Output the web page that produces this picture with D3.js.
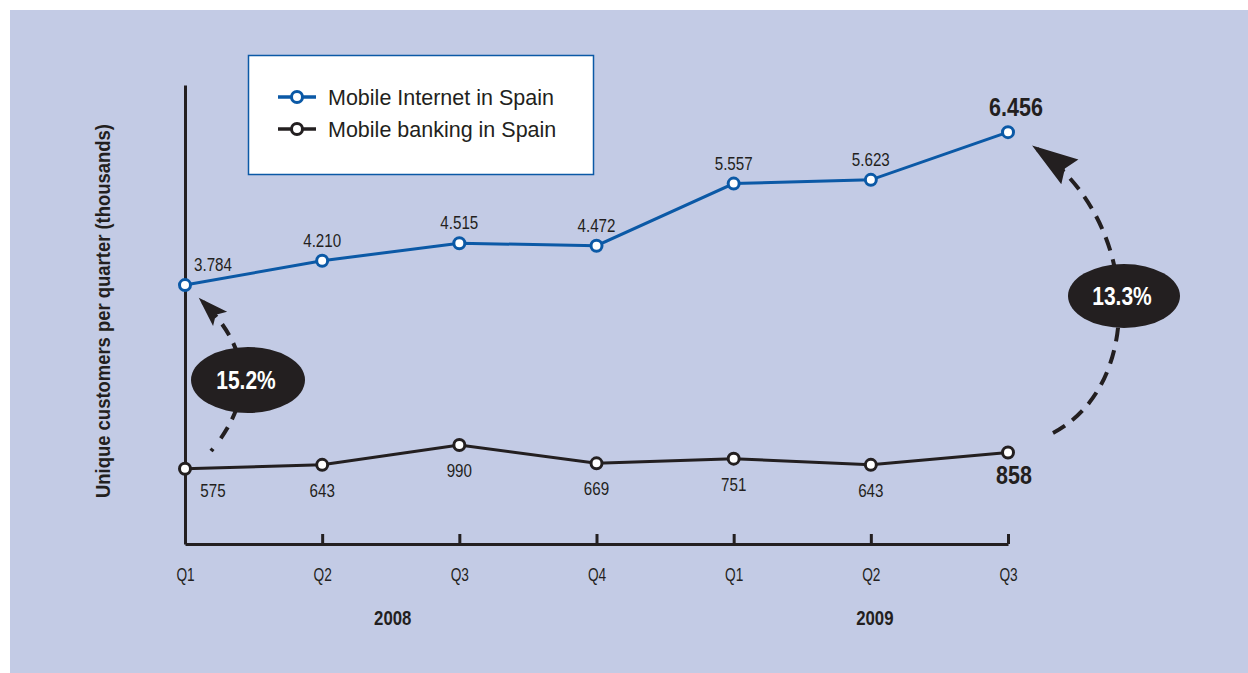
<!DOCTYPE html>
<html>
<head>
<meta charset="utf-8">
<script src="https://cdn.jsdelivr.net/npm/d3@7"></script>
<style>
  html, body { margin: 0; padding: 0; background: #fff; }
  svg { display: block; }
  text { font-family: "Liberation Sans", Arial, sans-serif; }
</style>
</head>
<body>
<div id="chart"></div>
<script>
// data
const quarters = ["Q1", "Q2", "Q3", "Q4", "Q1", "Q2", "Q3"];
const periods = ["2008 Q1", "2008 Q2", "2008 Q3", "2008 Q4", "2009 Q1", "2009 Q2", "2009 Q3"];
const years = ["2008", "2009"];
const internetVals = [3784, 4210, 4515, 4472, 5557, 5623, 6456];
const bankingVals = [575, 643, 990, 669, 751, 643, 858];
const internetLabels = ["3.784", "4.210", "4.515", "4.472", "5.557", "5.623", "6.456"];
const bankingLabels = ["575", "643", "990", "669", "751", "643", "858"];
const seriesNames = ["Mobile Internet in Spain", "Mobile banking in Spain"];
const growthLabels = ["15.2%", "13.3%"];

const W = 1248, H = 673;
const blue = "#0b59a6", dark = "#231f20", bg = "#c3cbe5";

let svg = d3.select("#chart").append("svg")
  .attr("width", W).attr("height", H);

// background panel
svg.append("rect").attr("x", 10).attr("y", 10)
  .attr("width", W - 10).attr("height", H - 10).attr("fill", bg);

// scales
let x = d3.scalePoint().domain(periods).range([185, 1008]);
let y = d3.scaleLinear().domain([-740, 7280]).range([544, 85]);

// condensed look: squeeze a normal font sideways
function narrow(g, px, py, sx) {
  return g.append("g").attr("transform", `translate(${px},${py}) scale(${sx},1)`)
    .append("text").attr("text-anchor", "middle").attr("fill", dark);
}

// x axis, ticks pointing up
let xAxis = svg.append("g").attr("transform", "translate(0,544)")
  .call(d3.axisBottom(x).tickSizeInner(-10).tickSizeOuter(0).tickPadding(24)
    .tickFormat((d, i) => quarters[i]));
xAxis.select(".domain").attr("stroke", dark).attr("stroke-width", 3);
xAxis.selectAll(".tick line").attr("stroke", dark).attr("stroke-width", 3)
  .filter((d, i) => i === 0).remove();
xAxis.selectAll(".tick text")
  .attr("font-family", "'Liberation Sans', Arial, sans-serif")
  .attr("font-size", 19).attr("fill", dark)
  .attr("transform", "scale(0.72,1)");

// y axis, line only
let yAxis = svg.append("g").attr("transform", "translate(185,0)")
  .call(d3.axisLeft(y).ticks(0).tickSizeOuter(0));
yAxis.select(".domain").attr("stroke", dark).attr("stroke-width", 3);

// year labels
let yearX = [(x(periods[1]) + x(periods[2])) / 2 + 2, x(periods[5]) + 4];
years.forEach((yr, i) => {
  narrow(svg, yearX[i], 625, 0.84)
    .attr("font-size", 20).attr("font-weight", "bold").text(yr);
});

// axis title
svg.append("text")
  .attr("transform", "translate(110,311) rotate(-90)")
  .attr("text-anchor", "middle").attr("font-size", 20).attr("font-weight", "bold")
  .attr("textLength", 374).attr("lengthAdjust", "spacingAndGlyphs")
  .attr("fill", dark).text("Unique customers per quarter (thousands)");

// arrow markers
let defs = svg.append("defs");
function addMarker(id, len, wid) {
  defs.append("marker").attr("id", id)
    .attr("markerUnits", "userSpaceOnUse")
    .attr("viewBox", `${-len - 2} ${-wid} ${len + 10} ${wid * 2}`)
    .attr("markerWidth", len + 10).attr("markerHeight", wid * 2)
    .attr("refX", 0).attr("refY", 0).attr("orient", "auto")
    .append("path")
    .attr("d", `M6,0 L${-len + 6},${-wid / 2} L${-len + 12},0 L${-len + 6},${wid / 2} Z`)
    .attr("fill", dark);
}
addMarker("headS", 30, 20);
addMarker("headL", 46, 30);

// dashed growth arrows
svg.append("path")
  .attr("d", "M211,451 Q276,374 203,302")
  .attr("fill", "none").attr("stroke", dark).attr("stroke-width", 4)
  .attr("stroke-dasharray", "3 13 13 9 13 9 13 9 13 9 13 9 13 9")
  .attr("marker-end", "url(#headS)");
svg.append("path")
  .attr("d", "M1053,433 C1145,385 1142,222 1037,149")
  .attr("fill", "none").attr("stroke", dark).attr("stroke-width", 4)
  .attr("stroke-dasharray", "14 9")
  .attr("marker-end", "url(#headL)");

// growth bubbles
let bubbles = [{cx: 248, cy: 380, rx: 57, ry: 33}, {cx: 1124, cy: 296, rx: 56, ry: 32}];
bubbles.forEach((b, i) => {
  svg.append("ellipse").attr("cx", b.cx).attr("cy", b.cy)
    .attr("rx", b.rx).attr("ry", b.ry).attr("fill", dark);
  narrow(svg, b.cx - 2, b.cy + 9, 0.84)
    .attr("font-size", 25).attr("font-weight", "bold")
    .attr("fill", "#fff").text(growthLabels[i]);
});

// lines
let line = d3.line().x((d, i) => x(periods[i])).y(d => y(d));
function drawSeries(vals, color) {
  svg.append("path").datum(vals).attr("d", line)
    .attr("fill", "none").attr("stroke", color).attr("stroke-width", 3);
  svg.append("g").selectAll("circle").data(vals).enter().append("circle")
    .attr("cx", (d, i) => x(periods[i])).attr("cy", d => y(d)).attr("r", 5.5)
    .attr("fill", "#fff").attr("stroke", color).attr("stroke-width", 3);
}
drawSeries(internetVals, blue);
drawSeries(bankingVals, dark);

// value labels
let last = periods.length - 1;
internetVals.forEach((v, i) => {
  let px = x(periods[i]) + (i === 0 ? 28 : (i === last ? 8 : 0));
  let t = i === last
    ? narrow(svg, px, y(v) - 16, 0.86).attr("font-size", 25).attr("font-weight", "bold")
    : narrow(svg, px, y(v) - 14, 0.82).attr("font-size", 18.5);
  t.text(internetLabels[i]);
});
bankingVals.forEach((v, i) => {
  let px = x(periods[i]) + (i === 0 ? 28 : (i === last ? 6 : 0));
  let t = i === last
    ? narrow(svg, px, y(v) + 31, 0.86).attr("font-size", 25).attr("font-weight", "bold")
    : narrow(svg, px, y(v) + (i === 0 ? 28 : 32), 0.82).attr("font-size", 18.5);
  t.text(bankingLabels[i]);
});

// legend
let lg = svg.append("g");
lg.append("rect").attr("x", 248.5).attr("y", 55.5).attr("width", 345).attr("height", 119)
  .attr("fill", "#fff").attr("stroke", blue).attr("stroke-width", 1.5);
let legColors = [blue, dark];
let item = lg.selectAll(".item").data(seriesNames).enter().append("g")
  .attr("transform", (d, i) => `translate(0,${97 + i * 32})`);
item.append("line").attr("x1", 278).attr("x2", 316)
  .attr("stroke", (d, i) => legColors[i]).attr("stroke-width", 3.5);
item.append("circle").attr("cx", 297).attr("r", 5.5).attr("fill", "#fff")
  .attr("stroke", (d, i) => legColors[i]).attr("stroke-width", 3);
item.append("text").attr("x", 328).attr("y", 7.5)
  .attr("font-size", 21.5).attr("fill", dark).text(d => d);
</script>
</body>
</html>
